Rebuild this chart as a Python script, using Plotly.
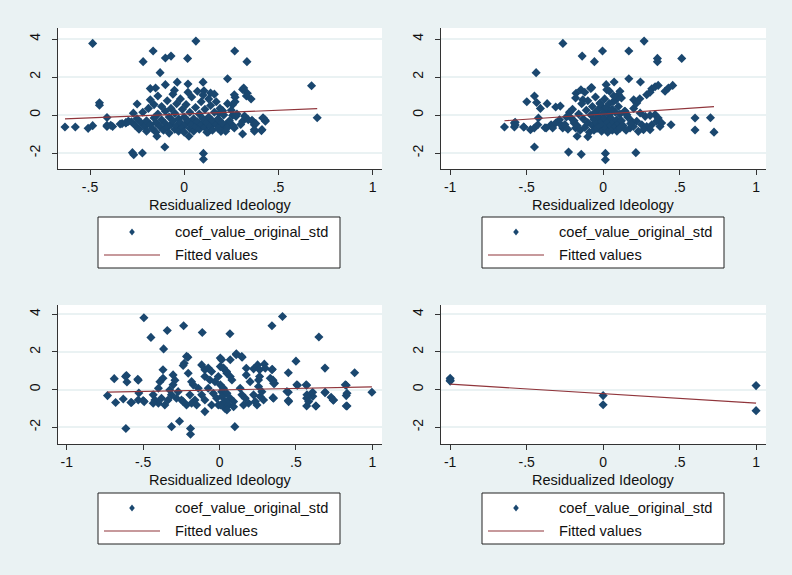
import plotly.graph_objects as go

# ---------------- data ----------------
p1_x = [-0.486, 0.062, -0.165, -0.07, -0.1, 0.018, -0.218, 0.268, 0.333, -0.128, 0.23, 0.676, 0.706,
        -0.633, -0.578, -0.51, -0.486, -0.45, -0.45, -0.41, -0.41, -0.38, -0.275, -0.268, -0.222, -0.103,
        -0.145, 0.102, 0.102, 0.025, 0.126, 0.31, 0.373, 0.41, 0.43, 0.42, 0.36, 0.355, 0.33, 0.31, 0.27, 0.27,
        -0.41, -0.39, -0.34, -0.31, -0.295, -0.27, -0.25, -0.18, -0.152, -0.1, -0.052, -0.037, 0.02, 0.1, 0.105, 0.14,
        0.316, 0.335, 0.266, 0.257, 0.204, 0.186, 0.257, 0.275, 0.31, 0.328, 0.363, 0.372, 0.372, 0.413, 0.417,
        0.431, 0.222, 0.257, 0.266, 0.195, 0.204, 0.23,
        -0.28, -0.26, -0.25, -0.24, -0.23, -0.22, -0.21, -0.2, -0.2, -0.19, -0.18, -0.18, -0.17, -0.16, -0.16,
        -0.15, -0.15, -0.14, -0.14, -0.13, -0.12, -0.12, -0.11, -0.1, -0.1, -0.09, -0.09, -0.08, -0.08, -0.07,
        -0.07, -0.06, -0.06, -0.05, -0.05, -0.04, -0.04, -0.03, -0.03, -0.02, -0.02, -0.01, -0.01, 0.0, 0.0,
        0.01, 0.01, 0.02, 0.02, 0.03, 0.03, 0.04, 0.04, 0.05, 0.05, 0.06, 0.06, 0.07, 0.07, 0.08, 0.08, 0.09,
        0.09, 0.1, 0.1, 0.11, 0.11, 0.12, 0.12, 0.13, 0.13, 0.14, 0.14, 0.15, 0.15, 0.16, 0.16, 0.17, 0.17,
        0.18, 0.18, 0.19, 0.2, 0.21, 0.22, 0.23, 0.24, 0.25, 0.26, 0.28, 0.3, 0.32, 0.34, 0.38, -0.33, -0.31, -0.3]
p1_y = [3.77, 3.89, 3.37, 3.1, 3.0, 2.98, 2.81, 3.37, 2.81, 2.23, 1.91, 1.54, -0.14,
        -0.63, -0.63, -0.70, -0.56, 0.65, 0.52, -0.13, -0.6, -0.6, -1.98, -2.09, -2.0, -1.68,
        -1.12, -2.02, -2.33, -1.12, -0.9, -1.0, -0.85, -0.82, -0.27, -0.16, -0.28, 0.84, 1.0, 1.35, 0.93, 0.7,
        -0.54, -0.54, -0.47, -0.42, -0.33, 0.1, 0.58, 1.39, 1.42, 1.6, 1.3, 1.73, 1.63, 1.73, 1.28, 1.16,
        1.42, 1.15, 1.07, 0.54, 0.23, 0.1, -0.02, -0.07, -0.33, -0.16, -0.33, -0.51, -0.77, -0.77, -0.16,
        -0.33, -0.51, -0.54, -0.68, -0.86, -0.6, -0.65,
        -0.35, -0.55, -0.2, -0.75, -0.4, 0.15, -0.62, -0.85, -0.3, 0.35, -0.5, 0.8, -0.7, -0.15, 0.55,
        -0.9, -0.4, 0.05, 1.0, -0.6, -0.25, 0.45, -0.8, -0.45, 0.2, 0.75, -0.65, -0.1, -0.95, 0.35,
        -0.5, -0.3, 1.1, -0.75, 0.1, -0.55, 0.6, -0.2, -0.85, 0.85, -0.4, 0.3, -0.65, -0.1, -0.9,
        0.55, -0.45, 1.2, -0.3, -0.7, 0.15, -0.5, 0.95, -0.2, -0.85, 0.4, -0.6, -0.35, 1.25, 0.05, -0.75, 0.7,
        -0.5, -0.2, 1.05, -0.65, 0.3, -0.9, -0.4, 0.85, -0.1, -0.6, 0.5, -0.3, -0.8, 0.15, 1.1, -0.5, 0.7,
        -0.2, -0.7, 0.35, -0.4, 0.0, -0.85, 0.6, -0.3, 0.25, -0.6, 0.05, -0.5, -0.05, -0.25, -0.45, -0.45, -0.4, -0.35]

p2_x = [-0.263, 0.268, -0.137, -0.004, 0.168, -0.057, 0.355, 0.355, 0.514, -0.438, 0.168, 0.244, 0.455,
        0.072, 0.02, 0.601, 0.702, 0.601, 0.725, 0.444, -0.645, -0.575, -0.575, -0.52, -0.499, -0.449, -0.435,
        -0.41, -0.366, -0.31, -0.28, -0.449, -0.226, -0.143, 0.015, 0.015, 0.214, -0.17, -0.1, -0.38,
        -0.58, -0.58, -0.518, -0.475, -0.45, -0.427, -0.423, -0.372, -0.34, -0.33, -0.31, -0.285, -0.264, -0.275,
        -0.21, -0.19, -0.18, -0.177, -0.145, -0.133, -0.08, -0.075,
        0.318, 0.34, 0.36, 0.405, 0.427, 0.285, 0.307, 0.2, 0.24, 0.22, 0.11, 0.1, 0.085, 0.068, 0.042, 0.024,
        -0.02, 0.002, 0.024, 0.144, 0.155, 0.242, 0.275, 0.307, 0.34, 0.36, 0.22, 0.253, 0.285, 0.318, 0.35,
        0.372, 0.307, 0.264, 0.23, 0.383, 0.187, 0.176, 0.198,
        -0.2, -0.19, -0.18, -0.17, -0.16, -0.15, -0.14, -0.13, -0.12, -0.12, -0.11, -0.1, -0.1, -0.09, -0.08,
        -0.08, -0.07, -0.07, -0.06, -0.06, -0.05, -0.05, -0.04, -0.04, -0.03, -0.03, -0.02, -0.02, -0.01, -0.01,
        0.0, 0.0, 0.01, 0.01, 0.02, 0.02, 0.03, 0.03, 0.04, 0.04, 0.05, 0.05, 0.06, 0.06, 0.07, 0.07, 0.08,
        0.08, 0.09, 0.09, 0.1, 0.1, 0.11, 0.11, 0.12, 0.12, 0.13, 0.14, 0.15, 0.16, 0.18, 0.2, -0.25, -0.24,
        -0.23, -0.22]
p2_y = [3.77, 3.89, 3.1, 3.37, 3.37, 2.81, 2.98, 2.81, 2.98, 2.23, 1.91, 1.74, 1.56,
        1.74, 1.6, -0.16, -0.14, -0.79, -0.9, -0.51, -0.63, -0.53, -0.38, -0.63, 0.70, 1.0, 0.66,
        0.35, 0.6, 0.42, 0.47, -1.68, -1.95, -2.07, -2.02, -2.35, -1.98, -1.12, -1.14, -0.67,
        -0.63, -0.42, -0.63, -0.77, -0.68, -0.51, -0.16, -0.68, -0.51, -0.68, -0.42, -0.25, -0.68, -0.51,
        -0.16, -0.42, -0.68, 1.15, 1.33, 0.8, 1.42, 1.45,
        1.38, 1.49, 1.56, 1.25, 1.42, 1.07, 1.2, 0.8, 0.86, 0.63, 1.25, 1.07, 0.8, 0.72, 1.25, 1.33,
        0.63, 0.37, 0.2, 0.2, 0.02, 0.11, -0.07, -0.02, 0.02, -0.16, -0.33, -0.51, -0.6, -0.51, -0.33,
        -0.6, -0.77, -0.77, -0.86, -0.42, -0.33, -0.68, -0.6,
        0.3, -0.3, 0.9, -0.55, 0.05, -0.8, 0.6, -0.2, 1.2, -0.65, 0.25, -0.4, 0.75, -0.9, 0.0,
        1.4, -0.55, 0.45, -0.25, -0.8, 0.95, 0.15, -0.45, -0.7, 0.3, -0.1, -0.6, 0.6, -0.35, -0.85,
        0.1, -0.5, 0.85, -0.2, -0.7, 0.4, -0.4, -0.9, 0.0, 0.6, -0.55, -0.15, -0.8, 0.3, -0.35, 1.0, -0.6,
        0.15, -0.25, -0.85, 0.45, -0.45, 0.05, -0.7, -0.3, 0.9, -0.55, 0.2, -0.8, -0.1, -0.45, 0.35, -0.5, -0.1,
        -0.75, 0.15]

p3_x = [-0.495, 0.412, 0.343, -0.235, -0.342, -0.113, 0.068, -0.449, 0.65, -0.366, -0.207, 0.11, 0.145,
        0.5, 0.69, 0.884, 0.45, -0.689, -0.615, -0.606, -0.535, -0.733, -0.68, -0.63, -0.58, -0.5, -0.613,
        -0.314, -0.262, -0.19, -0.19, 0.1, 0.997, 0.829, 0.829, 0.829, 0.73, 0.744, 0.69, 0.63, 0.61, 0.57,
        0.57, 0.57, 0.51, 0.45, 0.45, 0.35, 0.345, 0.35, 0.36,
        -0.609, -0.576, -0.532, -0.528, -0.532, -0.493, -0.216, -0.231, -0.238, -0.205,
        -0.37, -0.37, -0.39, -0.4, -0.434, -0.423, -0.4, -0.38, -0.358, -0.434,
        -0.304, -0.292, -0.304, -0.326, -0.271, -0.315, -0.282, -0.249, -0.337,
        -0.238, -0.216, -0.183, -0.161, -0.194, -0.172, -0.183, -0.139, -0.117, -0.15, -0.096,
        -0.117, -0.096, -0.074, -0.052, -0.096, -0.063, -0.03, -0.008, 0.014, 0.025, 0.046,
        -0.074, -0.041, -0.019, 0.014, 0.036, -0.096, -0.052, -0.008, 0.036,
        0.109, 0.148, 0.07, 0.005, 0.005, 0.026, 0.048, 0.07, 0.081,
        0.175, 0.223, 0.249, 0.262, 0.293, 0.299, 0.262, 0.255, 0.2, 0.175,
        0.343, 0.332, 0.354, 0.441, 0.452, 0.572, 0.583, 0.609, 0.631, 0.691, 0.746, 0.834, 0.834, 0.823, 0.506,
        0.567, 0.353,
        0.005, 0.026, 0.048, 0.07, 0.092, 0.015, 0.037, 0.059, 0.005, 0.048, 0.092,
        0.135, 0.146, 0.168, 0.19, 0.157, 0.223, 0.234, 0.245, 0.266, 0.277, 0.288, 0.255]
p3_y = [3.81, 3.88, 3.39, 3.39, 3.14, 3.03, 2.96, 2.77, 2.79, 2.16, 1.72, 1.9, 1.75,
        1.51, 1.14, 0.89, 0.89, 0.58, 0.7, 0.4, 0.55, -0.32, -0.69, -0.5, -0.69, -0.58, -2.07,
        -1.97, -1.68, -2.07, -2.37, -1.97, -0.14, -0.32, 0.23, -0.87, -0.41, -0.57, -0.16, -0.87, -0.36, 0.23,
        -0.87, -0.46, 0.23, -0.58, -0.14, -0.43, 1.08, 0.5, 0.33,
        0.75, -0.69, 0.5, -0.18, -0.55, -0.64, 1.76, 1.4, 1.28, 0.87,
        1.05, 0.6, 0.42, 0.07, -0.28, -0.55, -0.73, -0.46, -0.82, -0.73,
        0.78, 0.5, 0.25, -0.02, -0.11, -0.28, -0.46, -0.55, -0.55,
        -0.64, -0.82, -0.73, -0.55, -0.28, 0.25, 0.42, 0.07, -0.28, -0.82, -1.17,
        1.31, 1.05, 1.14, 0.96, 0.69, 0.51, 0.42, 0.69, 1.58, 1.14, 0.96,
        0.07, -0.2, -0.46, -0.11, -0.64, -0.55, -0.82, -0.82, -1.0,
        1.85, 1.72, 1.58, 1.67, 1.22, 1.13, 0.87, 0.69, 0.51,
        1.13, 1.1, 1.31, 1.05, 1.35, 1.13, 0.69, 0.51, 0.42, 0.78,
        1.05, 0.6, 0.33, -0.1, -0.64, -0.28, -0.64, -0.14, -0.87, -0.14, -0.55, -0.2, -0.87, 0.25, 0.25,
        0.25, -0.46,
        0.25, 0.07, -0.2, -0.46, -0.64, -0.37, -0.64, -0.82, -0.82, -1.08, -0.91,
        0.07, -0.28, -0.46, -0.73, -0.82, -0.28, -0.64, -0.82, -0.37, -0.11, -0.55, 0.16]

p4_x = [-1, -1, -1, 0, 0, 1, 1]
p4_y = [0.6, 0.5, 0.45, -0.32, -0.81, 0.21, -1.12]

# fitted line (linear fit) per panel
fit_slope = [0.40, 0.54, 0.162, -0.50]
fit_intercept = [0.05, 0.048, -0.021, -0.215]

panel_x = [p1_x, p2_x, p3_x, p4_x]
panel_y = [p1_y, p2_y, p3_y, p4_y]

x_tickvals = [[-0.5, 0, 0.5, 1], [-1, -0.5, 0, 0.5, 1], [-1, -0.5, 0, 0.5, 1], [-1, -0.5, 0, 0.5, 1]]
x_ticktext = [["-.5", "0", ".5", "1"], ["-1", "-.5", "0", ".5", "1"],
              ["-1", "-.5", "0", ".5", "1"], ["-1", "-.5", "0", ".5", "1"]]
y_tickvals = [-2, 0, 2, 4]
y_ticktext = ["-2", "0", "2", "4"]
x_title = "Residualized Ideology"
legend_labels = ["coef_value_original_std", "Fitted values"]

# ---------------- layout geometry (pixels) ----------------
W, H = 792, 575
def fx(px): return px / W
def fy(py): return 1 - py / H

boxes = [  # left, right, top, bottom  of plot regions in px
    (58, 382, 28, 169),
    (441, 766, 28, 169),
    (58, 382, 305, 444),
    (441, 766, 305, 444),
]
x_ranges = [[-0.67, 1.05], [-1.06, 1.065], [-1.057, 1.063], [-1.06, 1.065]]
y_ranges = [[-2.84, 4.58], [-2.84, 4.58], [-2.89, 4.49], [-2.89, 4.49]]

NAVY = "#1a476f"
MAROON = "#90353b"
BG = "#eaf2f3"
FONT = "Liberation Sans, Arial, sans-serif"

fig = go.Figure()
layout = dict(
    width=W, height=H, margin=dict(l=0, r=0, t=0, b=0),
    paper_bgcolor=BG, plot_bgcolor="white", showlegend=False,
    font=dict(family=FONT, size=14, color="#000"),
)
shapes = []
annotations = []

for i in range(4):
    sfx = "" if i == 0 else str(i + 1)
    xs, ys = panel_x[i], panel_y[i]
    fig.add_trace(go.Scatter(
        x=xs, y=ys, mode="markers", name=legend_labels[0],
        marker=dict(symbol="diamond", size=7, color=NAVY, line=dict(width=0)),
        xaxis="x" + sfx, yaxis="y" + sfx, hoverinfo="x+y"))
    x0, x1 = min(xs), max(xs)
    fig.add_trace(go.Scatter(
        x=[x0, x1], y=[fit_intercept[i] + fit_slope[i] * x0, fit_intercept[i] + fit_slope[i] * x1],
        mode="lines", name=legend_labels[1], line=dict(color=MAROON, width=1.2),
        xaxis="x" + sfx, yaxis="y" + sfx))
    l, r, t, b = boxes[i]
    layout["xaxis" + sfx] = dict(
        domain=[fx(l), fx(r)], range=x_ranges[i], anchor="y" + sfx,
        showline=True, linecolor="#333", linewidth=1, mirror=False,
        ticks="outside", ticklen=5, tickcolor="#333", tickwidth=1,
        tickvals=x_tickvals[i], ticktext=x_ticktext[i], showgrid=False, zeroline=False,
        tickfont=dict(size=14, color="#111"), ticklabelstandoff=0)
    layout["yaxis" + sfx] = dict(
        domain=[fy(b), fy(t)], range=y_ranges[i], anchor="x" + sfx,
        showline=True, linecolor="#333", linewidth=1,
        ticks="outside", ticklen=5, tickcolor="#333", tickwidth=1,
        tickvals=y_tickvals, ticktext=y_ticktext, tickangle=-90,
        showgrid=True, gridcolor=BG, gridwidth=1.5, zeroline=False,
        tickfont=dict(size=14, color="#111"), ticklabelstandoff=6)
    # axis title
    annotations.append(dict(
        x=fx((l + r) / 2), y=fy(b + 36), xref="paper", yref="paper",
        text=x_title, showarrow=False, xanchor="center", yanchor="middle",
        font=dict(size=14.5, color="#111")))
    # legend box
    lx = 98 if i % 2 == 0 else 482
    ly = 217 if i < 2 else 493
    shapes.append(dict(type="rect", xref="paper", yref="paper",
                       x0=fx(lx), x1=fx(lx + 242), y0=fy(ly + 51), y1=fy(ly),
                       line=dict(color="#222", width=1), fillcolor="white", layer="above"))
    mx, my = lx + 34, ly + 15
    shapes.append(dict(type="path", xref="paper", yref="paper",
                       path=f"M {fx(mx)},{fy(my - 3.5)} L {fx(mx + 2.8)},{fy(my)} "
                            f"L {fx(mx)},{fy(my + 3.5)} L {fx(mx - 2.8)},{fy(my)} Z",
                       line=dict(width=0), fillcolor=NAVY, layer="above"))
    shapes.append(dict(type="line", xref="paper", yref="paper",
                       x0=fx(lx + 6), x1=fx(lx + 62), y0=fy(ly + 38), y1=fy(ly + 38),
                       line=dict(color=MAROON, width=1.2), layer="above"))
    for k, lab in enumerate(legend_labels):
        annotations.append(dict(
            x=fx(lx + 75), y=fy(ly + 15 + 23 * k), xref="paper", yref="paper",
            text=lab, showarrow=False, xanchor="left", yanchor="middle",
            font=dict(size=14.6, color="#111")))

layout["shapes"] = shapes
layout["annotations"] = annotations
fig.update_layout(**layout)
fig.write_html("out.html", config={"displayModeBar": False},
               post_script="document.body.style.margin='0';")
